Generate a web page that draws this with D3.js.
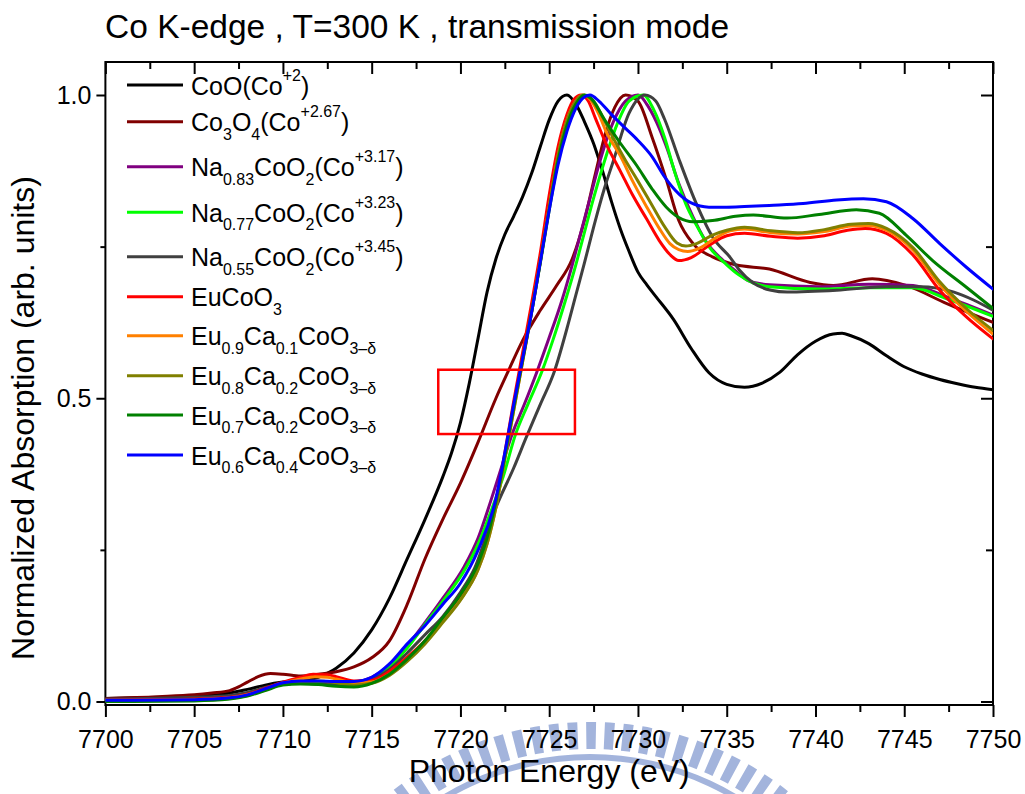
<!DOCTYPE html>
<html><head><meta charset="utf-8">
<script src="https://cdn.jsdelivr.net/npm/d3@7"></script>
<style>
html,body{margin:0;padding:0;background:#fff;}
svg{display:block;font-family:"Liberation Sans",Arial,Helvetica,sans-serif;}
</style></head><body>
<svg id="chart" width="1025" height="794"></svg>
<script>
// ---------------- DATA ----------------
const titleText = "Co K-edge , T=300 K , transmission mode";
const xTitle = "Photon Energy (eV)";
const yTitle = "Normalized Absorption (arb. units)";
const xMajorTicks = [7700, 7705, 7710, 7715, 7720, 7725, 7730, 7735, 7740, 7745, 7750];
const xMinorTicks = [7702.5, 7707.5, 7712.5, 7717.5, 7722.5, 7727.5, 7732.5, 7737.5, 7742.5, 7747.5];
const yMajorTicks = [0.0, 0.5, 1.0];
const yMinorTicks = [0.25, 0.75];
const seriesColors = ["#000000", "#800000", "#800080", "#00ff00", "#404040", "#ff0000", "#ff8000", "#808000", "#008000", "#0000ff"];

// energy (eV), normalized absorption
const coo = [[7700,0.005],[7703,0.007],[7705,0.009],[7706,0.011],[7707,0.014],[7708,0.02],[7709,0.027],[7710,0.032],[7711,0.035],[7712,0.04],[7712.6,0.048],[7713,0.055],[7714,0.08],[7715,0.118],[7716,0.17],[7717,0.235],[7718,0.3],[7719,0.37],[7719.5,0.41],[7720,0.46],[7720.5,0.525],[7721,0.6],[7721.5,0.675],[7722,0.73],[7722.5,0.77],[7723,0.8],[7723.5,0.832],[7724,0.87],[7724.5,0.915],[7725,0.959],[7725.5,0.99],[7726,1.0],[7726.5,0.985],[7727,0.955],[7727.5,0.92],[7728,0.875],[7728.5,0.825],[7729,0.78],[7729.5,0.742],[7730,0.708],[7730.5,0.687],[7731,0.668],[7732,0.63],[7733,0.582],[7734,0.542],[7735,0.523],[7736,0.518],[7737,0.525],[7738,0.543],[7739,0.572],[7740,0.594],[7741,0.606],[7741.5,0.607],[7742,0.603],[7743,0.59],[7744,0.57],[7745,0.552],[7746,0.54],[7747,0.531],[7748,0.524],[7749,0.518],[7750,0.514]];
const co3o4 = [[7700,0.005],[7703,0.008],[7705,0.011],[7706,0.014],[7707,0.018],[7707.5,0.024],[7708,0.032],[7708.6,0.041],[7709.3,0.046],[7710,0.045],[7711,0.042],[7712,0.045],[7713,0.049],[7714,0.057],[7715,0.072],[7716,0.1],[7717,0.16],[7718,0.235],[7719,0.3],[7720,0.36],[7721,0.428],[7722,0.5],[7722.7,0.545],[7723.5,0.595],[7724.5,0.645],[7725.4,0.685],[7726.3,0.73],[7727,0.795],[7727.6,0.87],[7728.2,0.94],[7728.7,0.98],[7729.3,1.0],[7730,0.99],[7730.8,0.93],[7731.6,0.86],[7732.3,0.793],[7733.1,0.755],[7734.2,0.733],[7735.5,0.72],[7737.4,0.713],[7739.7,0.691],[7741,0.686],[7743.2,0.697],[7745.1,0.686],[7747.4,0.656],[7750,0.625]];
const na083 = [[7700,0.003],[7705,0.005],[7707,0.008],[7708,0.013],[7709,0.022],[7710,0.03],[7711,0.033],[7712,0.032],[7713,0.031],[7714,0.032],[7715,0.04],[7716,0.06],[7717,0.092],[7718,0.13],[7719,0.17],[7720.2,0.222],[7721,0.27],[7721.7,0.33],[7722.3,0.385],[7722.9,0.44],[7723.6,0.49],[7724.3,0.543],[7725,0.6],[7725.7,0.66],[7726.3,0.72],[7726.8,0.775],[7727.3,0.83],[7727.8,0.885],[7728.6,0.955],[7729.3,0.99],[7730,1.0],[7730.6,0.98],[7731.2,0.945],[7731.6,0.915],[7732.3,0.854],[7733.1,0.799],[7733.8,0.76],[7734.8,0.727],[7735.5,0.71],[7736.2,0.694],[7737.4,0.687],[7740.2,0.684],[7743,0.688],[7745.5,0.686],[7747.4,0.667],[7750,0.637]];
const na077 = [[7700,0.002],[7705,0.004],[7707,0.007],[7708,0.012],[7709,0.021],[7710,0.029],[7711,0.032],[7712,0.031],[7713,0.03],[7714,0.031],[7715,0.038],[7716,0.057],[7717,0.088],[7718,0.127],[7719,0.165],[7720.3,0.22],[7721,0.26],[7721.8,0.32],[7722.4,0.37],[7723.1,0.44],[7723.8,0.49],[7724.6,0.545],[7725.2,0.595],[7725.9,0.66],[7726.5,0.72],[7727,0.775],[7727.5,0.83],[7728,0.88],[7728.8,0.95],[7729.5,0.99],[7730.3,1.0],[7730.9,0.975],[7731.5,0.93],[7732.1,0.87],[7732.7,0.82],[7733.3,0.785],[7734,0.75],[7735,0.72],[7735.7,0.703],[7736.5,0.69],[7737.4,0.684],[7740.2,0.68],[7743,0.682],[7745.5,0.682],[7747.4,0.664],[7750,0.635]];
const na055 = [[7700,0.004],[7705,0.007],[7707,0.01],[7708,0.015],[7709,0.023],[7710,0.029],[7711,0.03],[7712,0.029],[7713,0.028],[7714,0.029],[7715,0.036],[7716,0.053],[7717,0.08],[7718,0.11],[7719,0.14],[7720,0.18],[7720.8,0.22],[7722,0.32],[7723,0.385],[7723.7,0.435],[7724.5,0.49],[7725.3,0.545],[7726,0.615],[7726.5,0.67],[7727,0.725],[7727.6,0.793],[7728.1,0.845],[7728.6,0.89],[7729.5,0.97],[7730.4,1.0],[7731,0.99],[7731.5,0.96],[7732.3,0.895],[7733.3,0.82],[7734.2,0.766],[7735.2,0.732],[7735.7,0.712],[7736.5,0.69],[7737.5,0.678],[7738.4,0.675],[7741.2,0.678],[7744,0.684],[7745.9,0.684],[7747.8,0.675],[7748.9,0.662],[7750,0.645]];
const eucoo3 = [[7700,0.002],[7705,0.004],[7707,0.007],[7708,0.012],[7709,0.022],[7710,0.032],[7711,0.04],[7711.7,0.045],[7712.5,0.044],[7713,0.041],[7714,0.034],[7715,0.035],[7716,0.05],[7717,0.073],[7718,0.1],[7719,0.135],[7720,0.17],[7721,0.225],[7721.5,0.27],[7722,0.33],[7722.5,0.41],[7723,0.495],[7723.5,0.575],[7724,0.655],[7724.5,0.74],[7725,0.835],[7725.5,0.915],[7726,0.968],[7726.4,0.993],[7726.8,1.0],[7727.2,0.99],[7727.6,0.962],[7728.2,0.92],[7729,0.875],[7729.7,0.835],[7730.5,0.795],[7731.2,0.76],[7731.8,0.737],[7732.3,0.727],[7733,0.732],[7734,0.752],[7735,0.768],[7736,0.772],[7737.5,0.767],[7739,0.764],[7740.5,0.768],[7741.8,0.777],[7742.8,0.78],[7744,0.772],[7745.5,0.736],[7747,0.678],[7748.5,0.634],[7750,0.598]];
const eu09 = [[7700,0.002],[7705,0.003],[7707,0.006],[7708,0.011],[7709,0.02],[7710,0.03],[7711,0.037],[7711.8,0.041],[7712.5,0.04],[7713,0.037],[7714,0.031],[7715,0.032],[7716,0.045],[7717,0.068],[7718,0.097],[7719,0.132],[7720,0.168],[7721,0.218],[7721.5,0.26],[7722,0.32],[7722.5,0.4],[7723,0.48],[7723.5,0.56],[7724,0.64],[7724.5,0.725],[7725,0.815],[7725.5,0.9],[7726,0.958],[7726.5,0.99],[7726.9,1.0],[7727.3,0.993],[7727.8,0.968],[7728.2,0.94],[7729,0.9],[7729.7,0.858],[7730.5,0.815],[7731.2,0.78],[7731.8,0.755],[7732.3,0.745],[7732.8,0.742],[7733.5,0.748],[7734.3,0.763],[7735.2,0.776],[7736,0.779],[7737.5,0.773],[7739,0.771],[7740.5,0.775],[7742,0.784],[7743,0.785],[7744,0.777],[7745.5,0.744],[7747,0.687],[7748.5,0.643],[7750,0.606]];
const eu08 = [[7700,0.001],[7705,0.002],[7707,0.005],[7708,0.01],[7709,0.019],[7710,0.029],[7711,0.033],[7712,0.034],[7713,0.031],[7714,0.027],[7715,0.03],[7716,0.043],[7717,0.066],[7718,0.095],[7719,0.13],[7720,0.167],[7721,0.218],[7721.5,0.26],[7722,0.32],[7722.5,0.4],[7723,0.48],[7723.5,0.56],[7724,0.64],[7724.5,0.725],[7725,0.815],[7725.5,0.9],[7726,0.958],[7726.5,0.99],[7726.9,1.0],[7727.3,0.995],[7727.8,0.975],[7728.5,0.935],[7729.3,0.892],[7730,0.858],[7730.8,0.818],[7731.5,0.783],[7732.2,0.756],[7732.7,0.751],[7733.3,0.755],[7734.2,0.769],[7735,0.777],[7736,0.782],[7737.5,0.776],[7739,0.773],[7740.5,0.778],[7742,0.787],[7743,0.788],[7744,0.78],[7745.5,0.748],[7747,0.692],[7748.5,0.648],[7750,0.612]];
const eu07 = [[7700,0.0],[7705,0.001],[7707,0.004],[7708,0.009],[7709,0.018],[7710,0.027],[7711,0.029],[7712,0.028],[7713,0.025],[7714,0.024],[7715,0.03],[7716,0.045],[7717,0.07],[7718,0.1],[7719,0.138],[7720,0.176],[7721,0.228],[7721.5,0.27],[7722,0.33],[7722.5,0.405],[7723,0.485],[7723.5,0.563],[7724,0.64],[7724.5,0.723],[7725,0.81],[7725.5,0.892],[7726,0.95],[7726.5,0.985],[7727,1.0],[7727.5,0.99],[7728,0.965],[7728.9,0.925],[7729.9,0.885],[7730.8,0.845],[7731.6,0.815],[7732.3,0.798],[7733.1,0.791],[7734.2,0.793],[7735.5,0.8],[7736.5,0.802],[7738.4,0.797],[7740.2,0.803],[7742.3,0.811],[7743.6,0.805],[7745.1,0.769],[7746.6,0.727],[7748.5,0.683],[7750,0.648]];
const eu06 = [[7700,0.002],[7705,0.003],[7707,0.006],[7708,0.011],[7709,0.021],[7710,0.031],[7711,0.034],[7712,0.034],[7713,0.033],[7714,0.033],[7715,0.04],[7716,0.062],[7717,0.095],[7718,0.125],[7719,0.16],[7720,0.195],[7721,0.25],[7722,0.335],[7722.5,0.41],[7723,0.49],[7723.5,0.565],[7724,0.64],[7724.5,0.725],[7725,0.81],[7725.5,0.885],[7726,0.94],[7726.5,0.978],[7727,0.997],[7727.3,1.0],[7727.8,0.99],[7728.5,0.968],[7729.3,0.945],[7730,0.925],[7730.8,0.898],[7731.5,0.865],[7732.3,0.837],[7733,0.822],[7734,0.815],[7735,0.815],[7736,0.816],[7737.4,0.818],[7739.3,0.821],[7741.2,0.827],[7742.7,0.829],[7744,0.824],[7745.5,0.796],[7747,0.755],[7748.5,0.716],[7750,0.68]];
const seriesData = [coo, co3o4, na083, na077, na055, eucoo3, eu09, eu08, eu07, eu06];

// legend labels: [text, "" | "sub" | "sup"]
const legendLabels = [
  [["CoO(Co",""],["+2","sup"],[")",""]],
  [["Co",""],["3","sub"],["O",""],["4","sub"],["(Co",""],["+2.67","sup"],[")",""]],
  [["Na",""],["0.83","sub"],["CoO",""],["2","sub"],["(Co",""],["+3.17","sup"],[")",""]],
  [["Na",""],["0.77","sub"],["CoO",""],["2","sub"],["(Co",""],["+3.23","sup"],[")",""]],
  [["Na",""],["0.55","sub"],["CoO",""],["2","sub"],["(Co",""],["+3.45","sup"],[")",""]],
  [["EuCoO",""],["3","sub"]],
  [["Eu",""],["0.9","sub"],["Ca",""],["0.1","sub"],["CoO",""],["3\u2013\u03b4","sub"]],
  [["Eu",""],["0.8","sub"],["Ca",""],["0.2","sub"],["CoO",""],["3\u2013\u03b4","sub"]],
  [["Eu",""],["0.7","sub"],["Ca",""],["0.2","sub"],["CoO",""],["3\u2013\u03b4","sub"]],
  [["Eu",""],["0.6","sub"],["Ca",""],["0.4","sub"],["CoO",""],["3\u2013\u03b4","sub"]]
];
// highlighted region (energy range, absorption range)
const boxEnergy = [7718.75, 7726.45];
const boxAbs = [0.441, 0.547];

// ---------------- LAYOUT ----------------
const svg = d3.select("#chart");
const L = 105.4, R = 993, T = 62, B = 705;
const x = d3.scaleLinear().domain([7700, 7750]).range([L, R]);
const y = d3.scaleLinear().domain([0, 1]).range([701.5, 95]);
const fontTick = 25;

// watermark (decorative)
const wm = svg.append("g").attr("transform", "translate(590,1040)").attr("fill", "#a3b4dc");
const deg = Math.PI / 180;
for (let a = -44; a <= 44; a += 3.4) {
  wm.append("path").attr("d", d3.arc()({innerRadius: 291, outerRadius: 318, startAngle: (a - 0.9) * deg, endAngle: (a + 0.9) * deg}));
}
wm.append("path").attr("d", d3.arc()({innerRadius: 280, outerRadius: 286, startAngle: -50 * deg, endAngle: 50 * deg}));

// axes ticks
function styleAxis(g) {
  g.select(".domain").remove();
  g.selectAll("line").attr("stroke", "#000").attr("stroke-width", 2);
  g.selectAll("text").attr("font-size", fontTick).attr("fill", "#000");
}
const fmtX = d3.format("d"), fmtY = d3.format(".1f");
svg.append("g").attr("transform", `translate(0,${B})`)
  .call(d3.axisBottom(x).tickValues(xMajorTicks).tickSize(12).tickPadding(13).tickFormat(fmtX)).call(styleAxis);
svg.append("g").attr("transform", `translate(0,${B})`)
  .call(d3.axisBottom(x).tickValues(xMinorTicks).tickSize(7).tickFormat("")).call(styleAxis);
svg.append("g").attr("transform", `translate(0,${T})`)
  .call(d3.axisTop(x).tickValues(xMajorTicks).tickSize(-12).tickFormat("")).call(styleAxis);
svg.append("g").attr("transform", `translate(0,${T})`)
  .call(d3.axisTop(x).tickValues(xMinorTicks).tickSize(-7).tickFormat("")).call(styleAxis);
svg.append("g").attr("transform", `translate(${L},0)`)
  .call(d3.axisLeft(y).tickValues(yMajorTicks).tickSize(9).tickPadding(5).tickFormat(fmtY)).call(styleAxis);
svg.append("g").attr("transform", `translate(${L},0)`)
  .call(d3.axisLeft(y).tickValues(yMinorTicks).tickSize(5).tickFormat("")).call(styleAxis);
svg.append("g").attr("transform", `translate(${R},0)`)
  .call(d3.axisRight(y).tickValues(yMajorTicks).tickSize(-12).tickFormat("")).call(styleAxis);
svg.append("g").attr("transform", `translate(${R},0)`)
  .call(d3.axisRight(y).tickValues(yMinorTicks).tickSize(-7).tickFormat("")).call(styleAxis);

// frame
svg.append("rect").attr("x", L).attr("y", T).attr("width", R - L).attr("height", B - T)
  .attr("fill", "none").attr("stroke", "#000").attr("stroke-width", 2);

// clip for lines
svg.append("clipPath").attr("id", "clip").append("rect")
  .attr("x", L).attr("y", T).attr("width", R - L).attr("height", B - T);

// lines
const line = d3.line().x(d => x(d[0])).y(d => y(d[1])).curve(d3.curveMonotoneX);
const lg = svg.append("g").attr("clip-path", "url(#clip)");
seriesData.forEach((s, i) => {
  lg.append("path").attr("d", line(s)).attr("fill", "none")
    .attr("stroke", seriesColors[i]).attr("stroke-width", 3)
    .attr("stroke-linejoin", "round").attr("stroke-linecap", "round");
});

// highlight box
svg.append("rect")
  .attr("x", x(boxEnergy[0])).attr("y", y(boxAbs[1]))
  .attr("width", x(boxEnergy[1]) - x(boxEnergy[0])).attr("height", y(boxAbs[0]) - y(boxAbs[1]))
  .attr("fill", "none").attr("stroke", "#ff0000").attr("stroke-width", 2.5);

// legend
const legendRowY = [85, 121.7, 166.7, 212.3, 256.7, 296.7, 335.7, 375.7, 415, 455];
const leg = svg.append("g");
legendLabels.forEach((segs, i) => {
  const ly = legendRowY[i];
  leg.append("line").attr("x1", 127).attr("x2", 183).attr("y1", ly).attr("y2", ly)
    .attr("stroke", seriesColors[i]).attr("stroke-width", 3);
  const t = leg.append("text").attr("x", 191).attr("y", ly + 9.5).attr("font-size", 25).attr("fill", "#000");
  let cur = 0;
  segs.forEach(([txt, type]) => {
    const target = type === "sub" ? 8.5 : type === "sup" ? -14 : 0;
    t.append("tspan").attr("dy", target - cur).attr("font-size", type ? 16 : 25).text(txt);
    cur = target;
  });
});

// titles
svg.append("text").attr("x", 105).attr("y", 38).attr("font-size", 33.5).attr("fill", "#000").text(titleText);
svg.append("text").attr("x", (L + R) / 2).attr("y", 782).attr("text-anchor", "middle")
  .attr("font-size", 32).attr("fill", "#000").text(xTitle);
svg.append("text").attr("transform", "translate(34,418) rotate(-90)").attr("text-anchor", "middle")
  .attr("font-size", 32).attr("fill", "#000").text(yTitle);
</script>
</body></html>
